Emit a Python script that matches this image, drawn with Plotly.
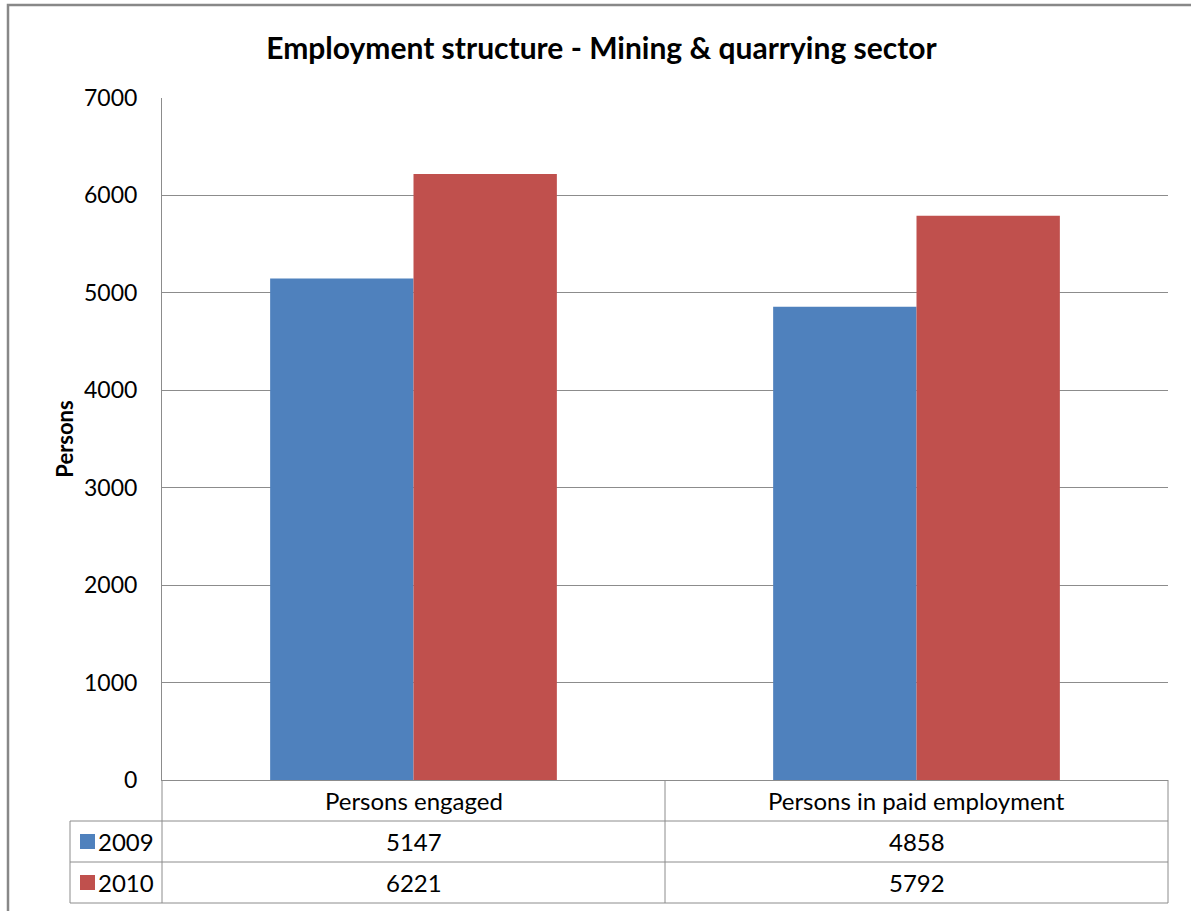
import plotly.graph_objects as go

# ---- data ----
categories = ["Persons engaged", "Persons in paid employment"]
series_names = ["2009", "2010"]
values_2009 = [5147, 4858]
values_2010 = [6221, 5792]
series_colors = ["#4F81BD", "#C0504D"]
y_ticks = [0, 1000, 2000, 3000, 4000, 5000, 6000, 7000]

W, H = 1191, 911
L, R, T, B = 162, 1168, 98, 780  # plot area pixel box


def px2x(px):
    return (px - L) / (R - L)


def py2y(py):
    return (B - py) / (B - T)


FONT = "Lato, 'Open Sans', sans-serif"
GRID = "#8C8C8C"
TXT = 24

fig = go.Figure()
for name, vals, col in zip(series_names, [values_2009, values_2010], series_colors):
    fig.add_trace(go.Bar(x=categories, y=vals, name=name,
                         marker=dict(color=col, line=dict(width=0)),
                         showlegend=False))

fig.update_layout(
    width=W, height=H,
    margin=dict(l=L, r=W - R, t=T, b=H - B),
    paper_bgcolor="white", plot_bgcolor="white",
    barmode="group", bargap=0.43, bargroupgap=0,
    font=dict(family=FONT, color="#000000"),
    title=dict(text="<b>Employment structure - Mining &amp; quarrying sector</b>",
               x=0.505, xanchor="center", y=1 - 48 / H, yanchor="middle",
               font=dict(size=30, family=FONT, color="#000000")),
)

fig.update_yaxes(range=[0, 7000], tickvals=y_ticks, showgrid=True, gridcolor=GRID,
                 gridwidth=1, showline=True, linecolor=GRID, linewidth=1,
                 zeroline=False, ticks="", ticklabelstandoff=19,
                 tickfont=dict(size=23, family=FONT, color="#000000"),
                 title=dict(text="<b>Persons</b>", standoff=4,
                            font=dict(size=22, family=FONT, color="#000000")))
fig.update_xaxes(showticklabels=False, showline=True, linecolor=GRID, linewidth=1,
                 showgrid=False, ticks="")

shapes = []
row_lines = [821, 862, 903]
tab_left = 70
# horizontal table lines
for py in row_lines:
    shapes.append(dict(type="line", xref="paper", yref="paper",
                       x0=px2x(tab_left), x1=1, y0=py2y(py), y1=py2y(py),
                       line=dict(color=GRID, width=1)))
# vertical table lines
mid_px = (L + R) / 2
for px, top in [(tab_left, 821), (L, 780), (mid_px, 780), (R, 780)]:
    shapes.append(dict(type="line", xref="paper", yref="paper",
                       x0=px2x(px), x1=px2x(px), y0=py2y(top), y1=py2y(903),
                       line=dict(color=GRID, width=1)))
# outer chart frame (cropped on the right and bottom)
shapes.append(dict(type="rect", xref="paper", yref="paper",
                   x0=px2x(8), x1=px2x(1200), y0=py2y(5), y1=py2y(920),
                   line=dict(color="#888888", width=2.5), fillcolor="rgba(0,0,0,0)"))

annotations = []
# category header row
for c in categories:
    annotations.append(dict(x=c, xref="x", y=py2y(800.5), yref="paper", text=c,
                            showarrow=False, xanchor="center", yanchor="middle",
                            font=dict(size=TXT, family=FONT, color="#000000")))
# data rows
row_centers = [841.5, 882.5]
for name, vals, col, yc in zip(series_names, [values_2009, values_2010], series_colors, row_centers):
    shapes.append(dict(type="rect", xref="paper", yref="paper",
                       x0=px2x(80), x1=px2x(95), y0=py2y(yc + 7.5), y1=py2y(yc - 7.5),
                       line=dict(width=0), fillcolor=col))
    annotations.append(dict(x=px2x(96), xref="paper", y=py2y(yc), yref="paper", text=name,
                            showarrow=False, xanchor="left", yanchor="middle",
                            font=dict(size=TXT, family=FONT, color="#000000")))
    for c, v in zip(categories, vals):
        annotations.append(dict(x=c, xref="x", y=py2y(yc), yref="paper", text=str(v),
                                showarrow=False, xanchor="center", yanchor="middle",
                                font=dict(size=TXT, family=FONT, color="#000000")))

fig.update_layout(shapes=shapes, annotations=annotations)
fig.write_html("out.html", config={"displayModeBar": False},
               post_script="document.body.style.margin='0px';document.body.style.overflow='hidden';")
